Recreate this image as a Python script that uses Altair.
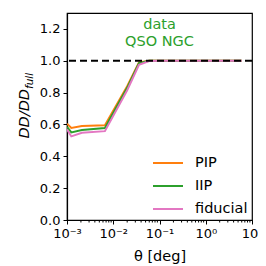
import altair as alt
import pandas as pd

theta = [0.001, 0.00124, 0.0021, 0.0066, 0.02, 0.036, 0.06, 0.1, 0.3, 1.0, 3.0, 6.0]
pip = [0.605, 0.578, 0.590, 0.595, 0.840, 0.990, 1.0, 1.0, 1.0, 1.0, 1.0, 1.0]
iip = [0.585, 0.550, 0.565, 0.578, 0.830, 0.985, 1.0, 1.0, 1.0, 1.0, 1.0, 1.0]
fid = [0.570, 0.525, 0.548, 0.558, 0.815, 0.975, 0.998, 1.0, 1.0, 1.0, 1.0, 1.0]
series = ["PIP", "IIP", "fiducial"]
colors = ["#ff7f0e", "#2ca02c", "#e377c2"]
major_ticks = [0.001, 0.01, 0.1, 1.0, 10.0]
minor_ticks = [m * 10.0 ** k for k in range(-3, 1) for m in range(2, 10)]
y_ticks = [0.0, 0.2, 0.4, 0.6, 0.8, 1.0, 1.2]

rows = []
for name, vals in zip(series, [pip, iip, fid]):
    for t, v in zip(theta, vals):
        rows.append({"theta": t, "ratio": v, "series": name})
df = pd.DataFrame(rows)

FONT = "DejaVu Sans"
W, H = 185, 207

xscale = alt.Scale(type="log", domain=[1e-3, 10], nice=False)
yscale = alt.Scale(domain=[0, 1.3], nice=False)

label_expr = ("datum.value < 0.005 ? '10⁻³' : datum.value < 0.05 ? '10⁻²' : "
              "datum.value < 0.5 ? '10⁻¹' : datum.value < 5 ? '10⁰' : '10¹'")

X_AX = alt.Axis(values=major_ticks, labelExpr=label_expr, title="θ [deg]",
                tickSize=4, labelPadding=3, titlePadding=9, labelOverlap=False,
                labelFlush=False)
Y_AX = alt.Axis(values=y_ticks, format=".1f", title=None, tickSize=4,
                labelPadding=3, labelOverlap=False, labelFlush=False)

lines = alt.Chart(df).mark_line(strokeWidth=2, clip=True).encode(
    x=alt.X("theta:Q", scale=xscale, axis=X_AX),
    y=alt.Y("ratio:Q", scale=yscale, axis=Y_AX),
    color=alt.Color("series:N", scale=alt.Scale(domain=series, range=colors), sort=series,
                    legend=alt.Legend(title=None, orient="none", legendX=85, legendY=134,
                                      symbolType="stroke", symbolSize=900, symbolStrokeWidth=2,
                                      labelFontSize=14.5, labelFont=FONT, labelColor="black",
                                      labelOffset=11, rowPadding=-9, padding=0)),
    order=alt.Order("series:N"),
)

minor = alt.Chart(pd.DataFrame({"t": minor_ticks})).mark_rule(
    color="black", strokeWidth=1).encode(
    x=alt.X("t:Q", scale=xscale, axis=X_AX),
    y=alt.value(H), y2=alt.value(H + 2.5),
)

dashed = alt.Chart(pd.DataFrame({"y": [1.0]})).mark_rule(
    color="black", strokeDash=[7, 4], strokeWidth=2).encode(
    y=alt.Y("y:Q", scale=yscale, axis=Y_AX))

title_txt = alt.Chart(pd.DataFrame({"x": [0.1], "y": [1.225]})).mark_text(
    color="#2ca02c", fontSize=14.5, font=FONT, lineHeight=17, baseline="middle"
).encode(x=alt.X("x:Q", scale=xscale, axis=X_AX), y=alt.Y("y:Q", scale=yscale, axis=Y_AX),
         text=alt.value(["data", "QSO NGC"]))

ylab1 = alt.Chart(pd.DataFrame({"a": [0]})).mark_text(
    text="DD/DD", angle=270, align="right", baseline="middle", fontSize=14.5,
    fontStyle="italic", font=FONT, color="black"
).encode(x=alt.value(-42), y=alt.value(76))

ylab2 = alt.Chart(pd.DataFrame({"a": [0]})).mark_text(
    text="full", angle=270, align="left", baseline="middle", fontSize=10.5,
    fontStyle="italic", font=FONT, color="black"
).encode(x=alt.value(-37), y=alt.value(76))

chart = alt.layer(lines, minor, dashed, title_txt, ylab1, ylab2).properties(
    width=W, height=H,
    autosize=alt.AutoSizeParams(type="none"),
    padding={"left": 59, "top": 5, "right": 6, "bottom": 50},
).configure_view(stroke="black", strokeWidth=1.2).configure_axis(
    grid=False, domainColor="black", tickColor="black", labelColor="black",
    labelFont=FONT, labelFontSize=13, titleFont=FONT, titleFontSize=14.5,
    titleFontWeight="normal", titleColor="black", domainWidth=1.2, tickWidth=1,
)

chart.save("out.html", embed_options={"renderer": "svg", "actions": False})
